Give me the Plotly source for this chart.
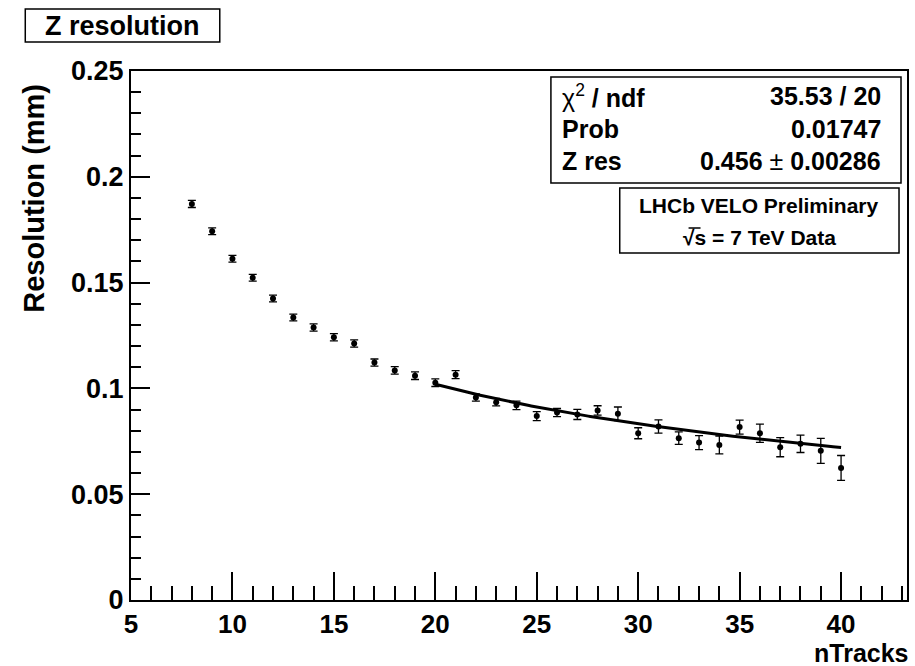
import numpy as np
import plotly.graph_objects as go

# Vertex z resolution per number of tracks
n_tracks = [8, 9, 10, 11, 12, 13, 14, 15, 16, 17, 18, 19, 20, 21, 22, 23, 24,
            25, 26, 27, 28, 29, 30, 31, 32, 33, 34, 35, 36, 37, 38, 39, 40]
resolution = [0.1872, 0.1743, 0.1613, 0.1523, 0.1425, 0.1335, 0.1288, 0.1242,
              0.1212, 0.1122, 0.1085, 0.1060, 0.1027, 0.1065, 0.0957, 0.0935,
              0.0920, 0.0869, 0.0886, 0.0877, 0.0896, 0.0880, 0.0788, 0.0820,
              0.0765, 0.0744, 0.0733, 0.0817, 0.0788, 0.0722, 0.0738, 0.0705,
              0.0624]
res_err = [0.0017, 0.0016, 0.0016, 0.0016, 0.0016, 0.0016, 0.0017, 0.0017,
           0.0017, 0.0017, 0.0018, 0.0018, 0.0018, 0.0019, 0.0017, 0.0018,
           0.0020, 0.0021, 0.0019, 0.0024, 0.0022, 0.0032, 0.0026, 0.0031,
           0.0030, 0.0033, 0.0042, 0.0033, 0.0043, 0.0045, 0.0041, 0.0059,
           0.0059]

# Fit: sigma_z = p0 / sqrt(nTracks), fitted over 20..40
fit_p0 = 0.456
fit_p0_err = 0.00286
fit_chi2 = 35.53
fit_ndf = 20
fit_prob = 0.01747
fit_range = (20, 40)

x_ticks = [5, 10, 15, 20, 25, 30, 35, 40]
x_ticklabels = ["5", "10", "15", "20", "25", "30", "35", "40"]
y_ticks = [0, 0.05, 0.1, 0.15, 0.2, 0.25]
y_ticklabels = ["0", "0.05", "0.1", "0.15", "0.2", "0.25"]

FONT = "Liberation Sans, Arial, Helvetica, sans-serif"

fig = go.Figure()

fig.add_trace(go.Scatter(
    x=n_tracks, y=resolution, mode="markers",
    marker=dict(color="black", size=6),
    error_y=dict(type="data", array=res_err, visible=True,
                 color="black", thickness=1.3, width=4),
    showlegend=False, hoverinfo="skip",
))

x_fit = np.linspace(fit_range[0], fit_range[1], 200)
fig.add_trace(go.Scatter(
    x=x_fit, y=fit_p0 / np.sqrt(x_fit), mode="lines",
    line=dict(color="black", width=3), showlegend=False, hoverinfo="skip",
))

L, R, T, B = 131, 6, 71, 66
W, H = 915, 666
pw, ph = W - L - R, H - T - B


def px(xp):
    return (xp - L) / pw


def py(yp):
    return (H - B - yp) / ph


shapes = [
    # title box
    dict(type="rect", xref="paper", yref="paper",
         x0=px(25), x1=px(220), y0=py(42), y1=py(9),
         line=dict(color="black", width=1.5), fillcolor="white"),
    # fit statistics box
    dict(type="rect", xref="paper", yref="paper",
         x0=px(552), x1=px(903), y0=py(183), y1=py(77),
         line=dict(color="black", width=1.5), fillcolor="white"),
    # experiment label box
    dict(type="rect", xref="paper", yref="paper",
         x0=px(621), x1=px(901), y0=py(253), y1=py(188),
         line=dict(color="black", width=1.5), fillcolor="white"),
    # overline of the sqrt sign
    dict(type="line", xref="paper", yref="paper",
         x0=px(690), x1=px(702), y0=py(228), y1=py(228),
         line=dict(color="black", width=1.5)),
]

stat_font = dict(family=FONT, size=25, color="black")
annotations = [
    dict(text="<b>Z resolution</b>", x=px(122), y=py(26), xref="paper", yref="paper",
         showarrow=False, xanchor="center", yanchor="middle",
         font=dict(family=FONT, size=27, color="black")),
    dict(text="χ<sup>2</sup><b> / ndf</b>", x=px(561), y=py(96), xref="paper",
         yref="paper", showarrow=False, xanchor="left", yanchor="middle", font=stat_font),
    dict(text=f"<b>{fit_chi2:.2f} / {fit_ndf}</b>", x=px(885), y=py(96), xref="paper",
         yref="paper", showarrow=False, xanchor="right", yanchor="middle", font=stat_font),
    dict(text="<b>Prob</b>", x=px(561), y=py(129), xref="paper",
         yref="paper", showarrow=False, xanchor="left", yanchor="middle", font=stat_font),
    dict(text=f"<b>{fit_prob:.5f}</b>", x=px(885), y=py(129), xref="paper",
         yref="paper", showarrow=False, xanchor="right", yanchor="middle", font=stat_font),
    dict(text="<b>Z res</b>", x=px(561), y=py(161), xref="paper",
         yref="paper", showarrow=False, xanchor="left", yanchor="middle", font=stat_font),
    dict(text=f"<b>{fit_p0:.3f}</b> ± <b>{fit_p0_err:.5f}</b>", x=px(885), y=py(161),
         xref="paper", yref="paper", showarrow=False, xanchor="right",
         yanchor="middle", font=stat_font),
    dict(text="<b>LHCb VELO Preliminary</b>", x=px(761), y=py(205), xref="paper",
         yref="paper", showarrow=False, xanchor="center", yanchor="middle",
         font=dict(family=FONT, size=21, color="black")),
    dict(text="<b>√s = 7 TeV Data</b>", x=px(761), y=py(237), xref="paper",
         yref="paper", showarrow=False, xanchor="center", yanchor="middle",
         font=dict(family=FONT, size=21, color="black")),
    dict(text="<b>nTracks</b>", x=px(913), y=py(653), xref="paper",
         yref="paper", showarrow=False, xanchor="right", yanchor="middle",
         font=dict(family=FONT, size=25, color="black")),
    dict(text="<b>Resolution (mm)</b>", x=px(33), y=py(82), xref="paper",
         yref="paper", showarrow=False, xanchor="center", yanchor="top",
         textangle=-90, font=dict(family=FONT, size=29, color="black")),
]

axis_common = dict(
    showgrid=False, zeroline=False, showline=True, linecolor="black",
    linewidth=2, mirror=True, ticks="inside", tickcolor="black",
    tickwidth=1.5,
)

fig.update_layout(
    width=W, height=H, margin=dict(l=L, r=R, t=T, b=B),
    paper_bgcolor="white", plot_bgcolor="white",
    shapes=shapes, annotations=annotations,
    xaxis=dict(range=[5, 43.25], tickmode="array", tickvals=x_ticks,
               ticktext=[f"<b>{t}</b>" for t in x_ticklabels], ticklen=28,
               tickfont=dict(family=FONT, size=26, color="black"),
               minor=dict(tickmode="linear", tick0=5, dtick=1, ticks="inside",
                          ticklen=14, tickcolor="black", tickwidth=1.5),
               **axis_common),
    yaxis=dict(range=[0, 0.25], tickmode="array", tickvals=y_ticks,
               ticktext=[f"<b>{t}</b>" for t in y_ticklabels], ticklen=19,
               tickfont=dict(family=FONT, size=27, color="black"),
               minor=dict(tickmode="linear", tick0=0, dtick=0.01, ticks="inside",
                          ticklen=10, tickcolor="black", tickwidth=1.5),
               **axis_common),
)

fig.write_html("out.html")
